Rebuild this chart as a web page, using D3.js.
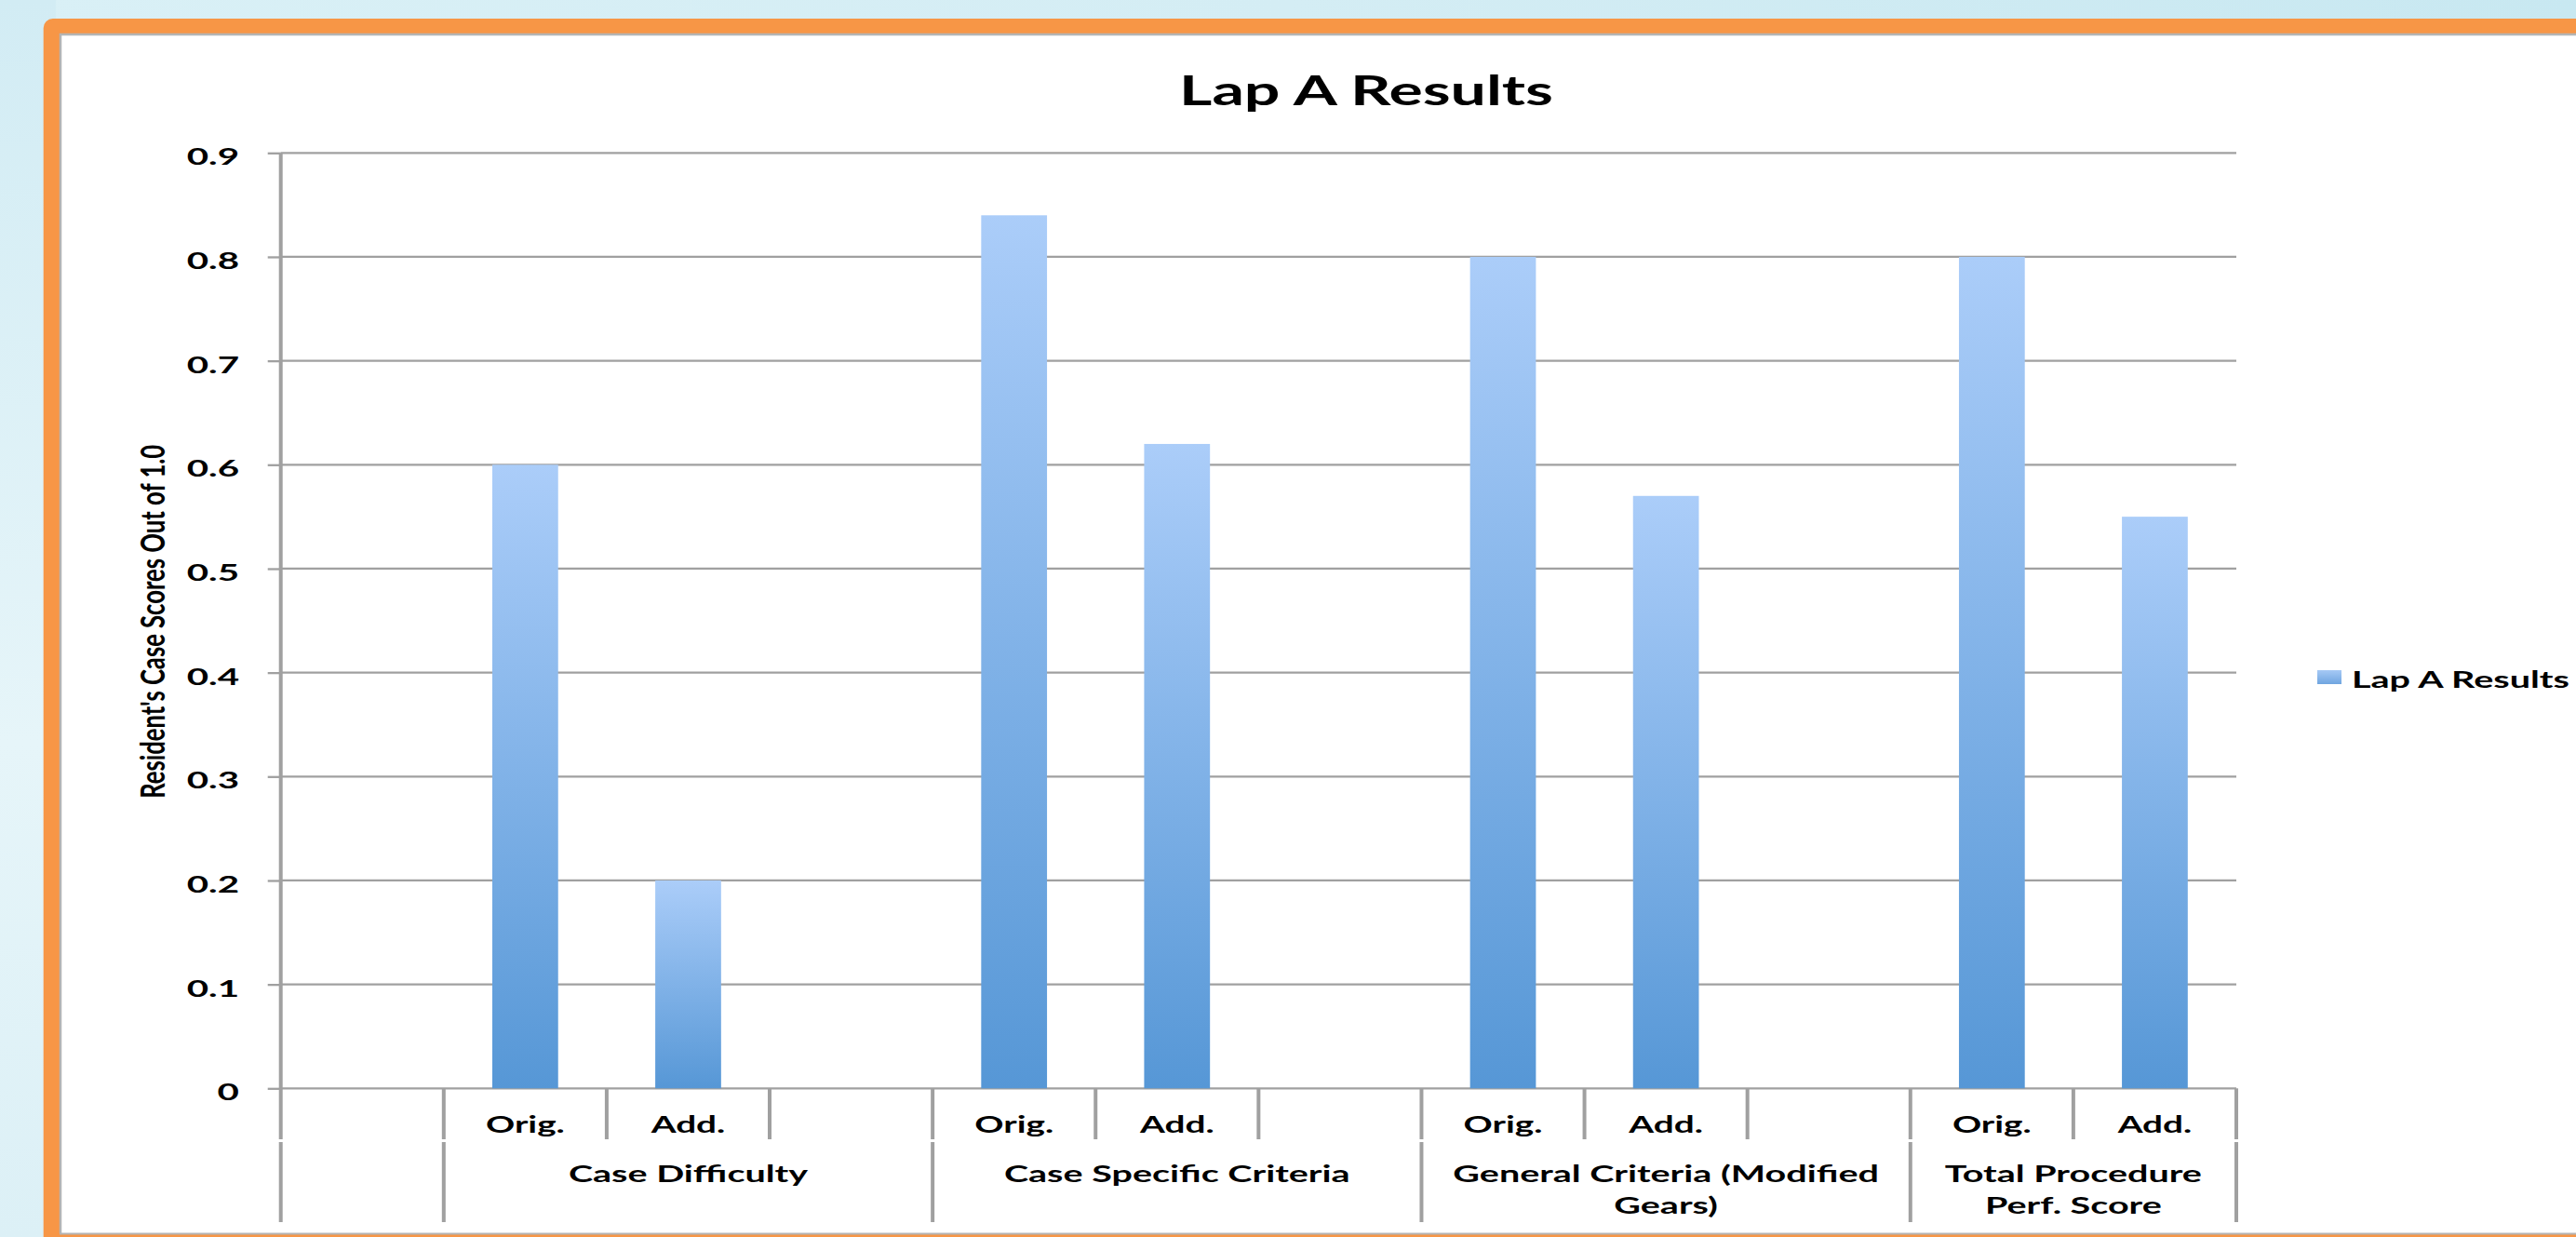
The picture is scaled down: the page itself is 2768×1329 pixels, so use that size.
<!DOCTYPE html>
<html>
<head>
<meta charset="utf-8">
<script src="https://cdn.jsdelivr.net/npm/d3@7"></script>
<style>
  html, body { margin: 0; padding: 0; overflow: hidden; background: #ffffff; }
  svg { display: block; }
</style>
</head>
<body>
<svg id="chart" width="2768" height="1329"></svg>
<script>
// ---------------- data ----------------
const chartTitle = "Lap A Results";
const seriesName = "Lap A Results";
const yAxisTitle = "Resident's Case Scores Out of 1.0";
const groupNames = ["", "Case Difficulty", "Case Specific Criteria", "General Criteria (Modified Gears)", "Total Procedure Perf. Score"];
const groupLines = [[""], ["Case Difficulty"], ["Case Specific Criteria"], ["General Criteria (Modified", "Gears)"], ["Total Procedure", "Perf. Score"]];
const slotGroup = [0, 1, 1, 1, 2, 2, 2, 3, 3, 3, 4, 4];
const slotLabels = ["", "Orig.", "Add.", "", "Orig.", "Add.", "", "Orig.", "Add.", "", "Orig.", "Add."];
const values = [null, 0.60, 0.20, null, 0.84, 0.62, null, 0.80, 0.57, null, 0.80, 0.55];
const yTicks = [0, 0.1, 0.2, 0.3, 0.4, 0.5, 0.6, 0.7, 0.8, 0.9];
const yTickLabels = ["0", "0.1", "0.2", "0.3", "0.4", "0.5", "0.6", "0.7", "0.8", "0.9"];

// ---------------- layout / style ----------------
const W = 2768, H = 1329;
const S = 1.58;                 // horizontal stretch of the original picture
const FONT = "Lato, 'Open Sans', sans-serif";
const plot = { left: 301.7, right: 2403, top: 164.3, bottom: 1169.3 };
const gridColor = "#a0a0a0";

const svg = d3.select("#chart");
const defs = svg.append("defs");

// background gradients (slide backdrop)
const bg = defs.append("linearGradient").attr("id", "bgGrad")
  .attr("x1", 0).attr("y1", 0).attr("x2", 1).attr("y2", 0);
bg.append("stop").attr("offset", "0%").attr("stop-color", "#d9f0f6");
bg.append("stop").attr("offset", "50%").attr("stop-color", "#d4edf4");
bg.append("stop").attr("offset", "100%").attr("stop-color", "#c8e8f1");
const bgLeft = defs.append("linearGradient").attr("id", "bgLeft")
  .attr("x1", 0).attr("y1", 0).attr("x2", 0).attr("y2", 1);
bgLeft.append("stop").attr("offset", "0%").attr("stop-color", "#d2ecf4");
bgLeft.append("stop").attr("offset", "60%").attr("stop-color", "#e6f5f9");
bgLeft.append("stop").attr("offset", "100%").attr("stop-color", "#dcf0f6");

// bar gradient
const bar = defs.append("linearGradient").attr("id", "barGrad")
  .attr("x1", 0).attr("y1", 0).attr("x2", 0).attr("y2", 1);
bar.append("stop").attr("offset", "0%").attr("stop-color", "#abcdf9");
bar.append("stop").attr("offset", "100%").attr("stop-color", "#5697d6");

const legGrad = defs.append("linearGradient").attr("id", "legGrad")
  .attr("x1", 0).attr("y1", 0).attr("x2", 0).attr("y2", 1);
legGrad.append("stop").attr("offset", "0%").attr("stop-color", "#a6c9f5");
legGrad.append("stop").attr("offset", "100%").attr("stop-color", "#6fa5e0");

// backdrop + frame
svg.append("rect").attr("x", 0).attr("y", 0).attr("width", W).attr("height", H).attr("fill", "url(#bgGrad)");
svg.append("rect").attr("x", 0).attr("y", 0).attr("width", 60).attr("height", H).attr("fill", "url(#bgLeft)");
svg.append("rect").attr("x", 46.7).attr("y", 20).attr("width", W).attr("height", H + 40)
  .attr("rx", 10).attr("fill", "#f79646");
svg.append("rect").attr("x", 64).attr("y", 36).attr("width", W).attr("height", 1290).attr("fill", "#ffffff");
svg.append("path").attr("d", `M65,1325 V37 H${W}`).attr("fill", "none").attr("stroke", "#b4b4b4").attr("stroke-width", 2.5);
svg.append("path").attr("d", `M64,1325.5 H${W}`).attr("fill", "none").attr("stroke", "#b4b4b4").attr("stroke-width", 2);

// ---------------- scales ----------------
const x = d3.scaleBand().domain(d3.range(values.length))
  .range([plot.left, plot.right]).paddingInner(0.596).paddingOuter(0.298);
const y = d3.scaleLinear().domain([0, 0.9]).range([plot.bottom, plot.top]);
const step = x.step();
const boundary = i => plot.left + i * step;

// helper for stretched text
function stretchedText(parent, tx, ty, txt, opts) {
  const sx = opts.sx || S;
  const g = parent.append("g").attr("transform", `translate(${tx},${ty}) scale(${sx},1)` + (opts.rotate ? ` rotate(${opts.rotate})` : ""));
  return g.append("text").attr("x", 0).attr("y", 0)
    .attr("text-anchor", opts.anchor || "middle")
    .attr("font-family", FONT)
    .attr("font-size", opts.size)
    .attr("font-weight", opts.weight || "bold")
    .attr("fill", opts.fill || "#000")
    .text(txt);
}

// ---------------- gridlines ----------------
svg.append("g").selectAll("line").data(yTicks).join("line")
  .attr("x1", plot.left).attr("x2", plot.right)
  .attr("y1", d => y(d)).attr("y2", d => y(d))
  .attr("stroke", gridColor).attr("stroke-width", 2.3);

// y axis ticks & labels
const yAxis = d3.axisLeft(y).tickValues(yTicks).tickSize(14).tickSizeOuter(0)
  .tickFormat((d, i) => yTickLabels[i]);
const yAxisG = svg.append("g").attr("transform", `translate(${plot.left},0)`).call(yAxis);
yAxisG.select(".domain").remove();
yAxisG.selectAll(".tick line").attr("stroke", gridColor).attr("stroke-width", 2.3);
yAxisG.selectAll(".tick text")
  .attr("x", 0).attr("dy", null)
  .attr("transform", `translate(-44.7,12.4) scale(${S},1)`)
  .attr("text-anchor", "end")
  .attr("font-family", FONT).attr("font-size", 25.5).attr("font-weight", "bold").attr("fill", "#000");

// ---------------- bars ----------------
const barData = values.map((v, i) => ({ i, v })).filter(d => d.v !== null);
svg.append("g").selectAll("rect").data(barData).join("rect")
  .attr("x", d => x(d.i))
  .attr("width", x.bandwidth())
  .attr("y", d => y(d.v))
  .attr("height", d => y(0) - y(d.v))
  .attr("fill", "url(#barGrad)");

// ---------------- category axis (two levels) ----------------
const sepG = svg.append("g").attr("stroke", gridColor).attr("stroke-width", 4);
for (let i = 0; i <= values.length; i++) {
  const isLong = i === 0 || i === values.length || slotGroup[i] !== slotGroup[i - 1];
  const xx = boundary(i);
  sepG.append("line").attr("x1", xx).attr("x2", xx)
    .attr("y1", i === 0 ? plot.top : plot.bottom).attr("y2", 1224);
  if (isLong) {
    sepG.append("line").attr("x1", xx).attr("x2", xx).attr("y1", 1227).attr("y2", 1313);
  }
}

// slot labels
const labG = svg.append("g");
slotLabels.forEach((lab, i) => {
  if (!lab) return;
  stretchedText(labG, x(i) + x.bandwidth() / 2, 1216.7, lab, { size: 24.5, weight: "bold" });
});

// group labels
groupLines.forEach((lines, gi) => {
  const idx = slotGroup.map((g, i) => g === gi ? i : -1).filter(i => i >= 0);
  const cx = (boundary(idx[0]) + boundary(idx[idx.length - 1] + 1)) / 2;
  lines.forEach((ln, li) => {
    if (!ln) return;
    stretchedText(labG, cx, 1270 + li * 34, ln, { size: 25, weight: "bold" });
  });
});

// ---------------- titles ----------------
stretchedText(svg, 1468, 112.7, chartTitle, { size: 43, weight: "bold" });
const yt = stretchedText(svg, 177, (plot.top + plot.bottom) / 2 + 1, yAxisTitle,
  { size: 25.5, weight: "bold", rotate: -90, sx: 1.45 });
yt.attr("textLength", 380).attr("lengthAdjust", "spacingAndGlyphs");

// ---------------- legend ----------------
svg.append("rect").attr("x", 2490).attr("y", 720).attr("width", 26).attr("height", 15).attr("fill", "url(#legGrad)");
const leg = stretchedText(svg, 2527, 739, seriesName, { size: 25.5, weight: "bold", anchor: "start" });
const legLen = leg.node().getComputedTextLength();
const legMax = 234;
if (legLen * S > legMax) {
  d3.select(leg.node().parentNode).attr("transform", `translate(2527,739) scale(${legMax / legLen},1)`);
}
</script>
</body>
</html>
